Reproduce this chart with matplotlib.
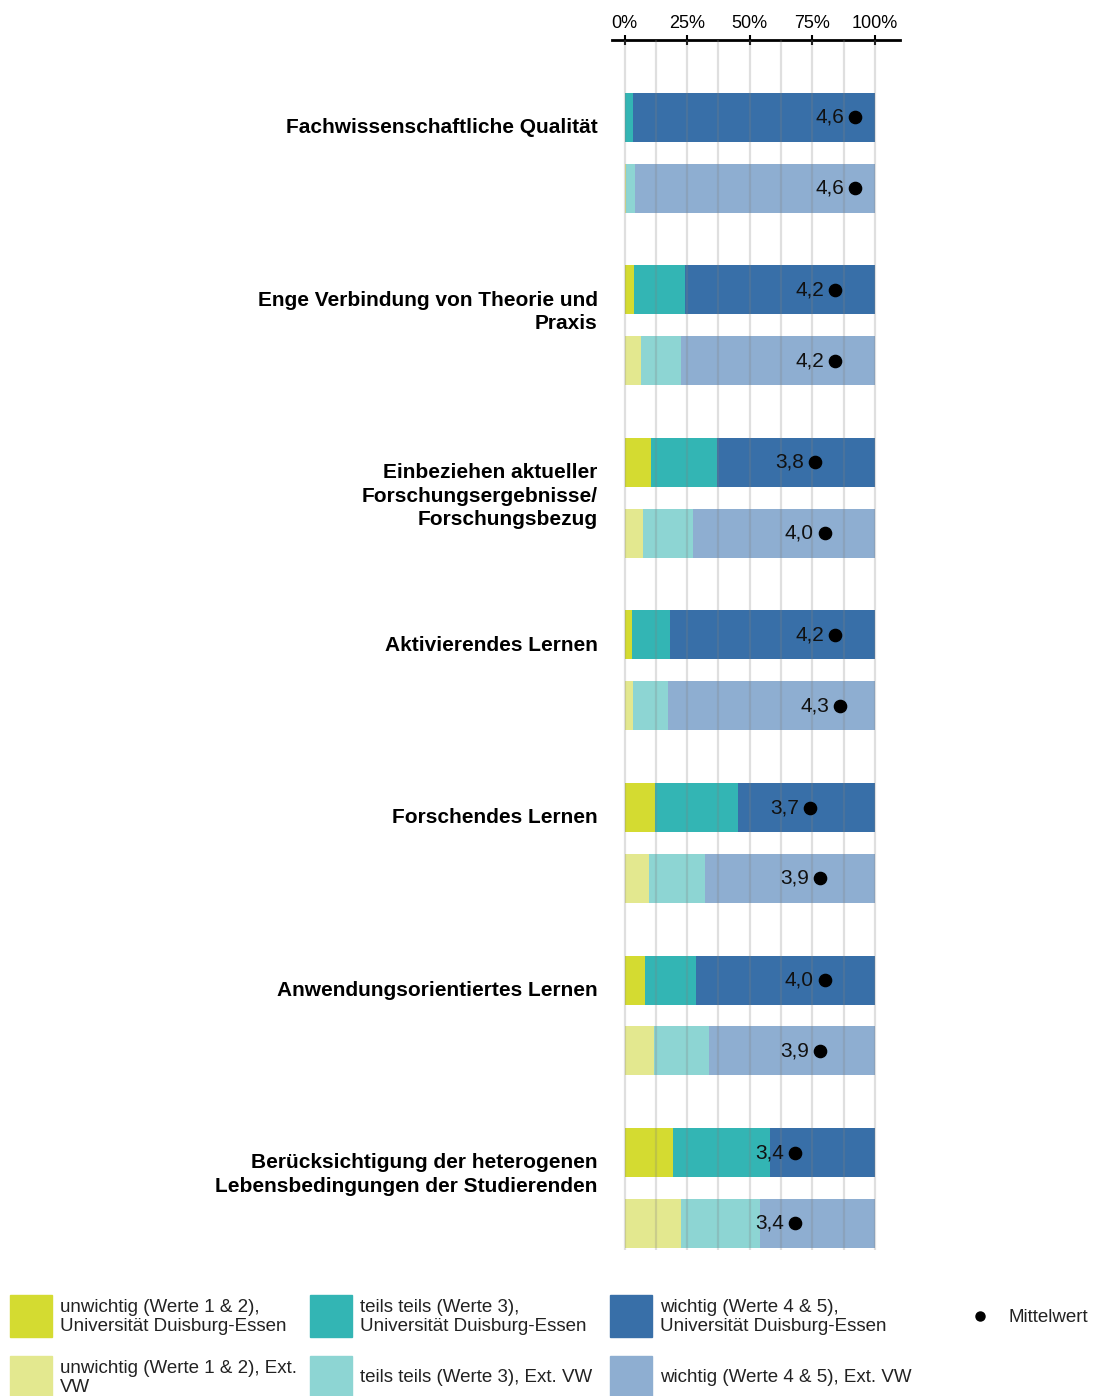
import numpy as np
import matplotlib
matplotlib.use('Agg')
import matplotlib.pyplot as plt
from matplotlib.patches import Rectangle

plt.rcParams['font.family'] = ['Liberation Sans', 'DejaVu Sans']

# Kategorien (Reihenfolge von oben nach unten)
categories = [
    'Fachwissenschaftliche Qualität',
    'Enge Verbindung von Theorie und\nPraxis',
    'Einbeziehen aktueller\nForschungsergebnisse/\nForschungsbezug',
    'Aktivierendes Lernen',
    'Forschendes Lernen',
    'Anwendungsorientiertes Lernen',
    'Berücksichtigung der heterogenen\nLebensbedingungen der Studierenden',
]

# Anteile in %, Universität Duisburg-Essen
ude_unwichtig = [0.0, 3.7, 10.7, 2.9, 12.1, 8.3, 19.3]
ude_teils = [3.5, 20.4, 26.3, 15.2, 33.3, 20.4, 38.8]
ude_wichtig = [100 - a - b for a, b in zip(ude_unwichtig, ude_teils)]
ude_mean = [4.6, 4.2, 3.8, 4.2, 3.7, 4.0, 3.4]

# Anteile in %, Ext. VW
ext_unwichtig = [0.5, 6.5, 7.3, 3.2, 9.7, 11.7, 22.7]
ext_teils = [3.7, 15.9, 20.0, 14.1, 22.4, 22.0, 31.3]
ext_wichtig = [100 - a - b for a, b in zip(ext_unwichtig, ext_teils)]
ext_mean = [4.6, 4.2, 4.0, 4.3, 3.9, 3.9, 3.4]

tick_vals = [0, 25, 50, 75, 100]
tick_labels = ['0%', '25%', '50%', '75%', '100%']

legend_labels = [
    'unwichtig (Werte 1 & 2),\nUniversität Duisburg-Essen',
    'teils teils (Werte 3),\nUniversität Duisburg-Essen',
    'wichtig (Werte 4 & 5),\nUniversität Duisburg-Essen',
    'unwichtig (Werte 1 & 2), Ext.\nVW',
    'teils teils (Werte 3), Ext. VW',
    'wichtig (Werte 4 & 5), Ext. VW',
]

ude_colors = ['#d4db31', '#33b5b4', '#386fa8']
ext_colors = ['#e3e88f', '#8dd5d3', '#8eaed1']

fig = plt.figure(figsize=(10.94, 13.96), dpi=100)
ax = fig.add_axes([612 / 1094, 1 - 1250 / 1396, 288 / 1094, 1210 / 1396])

n = len(categories)
y_ude = np.arange(n) * 1.0
y_ext = y_ude + 0.409
h = 0.284

for ys, segs, cols in [
    (y_ude, [ude_unwichtig, ude_teils, ude_wichtig], ude_colors),
    (y_ext, [ext_unwichtig, ext_teils, ext_wichtig], ext_colors),
]:
    left = np.zeros(n)
    for vals, c in zip(segs, cols):
        ax.barh(ys, vals, left=left, height=h, color=c, edgecolor='none', zorder=2)
        left += np.array(vals)

# Gitterlinien über den Balken
for g in np.arange(0, 100.1, 12.5):
    ax.axvline(g, color='#808080', alpha=0.25, lw=1.6, zorder=3)

# Mittelwerte
for ys, means in [(y_ude, ude_mean), (y_ext, ext_mean)]:
    xs = np.array(means) / 5 * 100
    ax.plot(xs, ys, 'o', color='black', ms=8.8, zorder=5)
    for x, y, m in zip(xs, ys, means):
        ax.text(x - 4.4, y, f'{m:.1f}'.replace('.', ','), ha='right', va='center',
                fontsize=15, color='#111111', zorder=6)

# Kategorienbeschriftungen
for y, cat in zip(y_ude, categories):
    ax.text(-10.7, y + 0.005, cat, ha='right', va='top', fontsize=15,
            fontweight='bold', linespacing=1.3, clip_on=False)

ax.set_xlim(-5, 110)
ax.set_ylim(6.565, -0.449)
ax.xaxis.tick_top()
ax.set_xticks(tick_vals)
ax.set_xticklabels(tick_labels, fontsize=13)
ax.tick_params(axis='x', direction='inout', length=7, width=1.5, pad=2)
ax.set_yticks([])
for s in ['left', 'right', 'bottom']:
    ax.spines[s].set_visible(False)
ax.spines['top'].set_linewidth(2)

# Legende
lg = fig.add_axes([0, 0, 1, 1])
lg.set_xlim(0, 1094)
lg.set_ylim(1396, 0)
lg.axis('off')
all_colors = ude_colors + ext_colors
for i, (lab, c) in enumerate(zip(legend_labels, all_colors)):
    col = i % 3
    row = i // 3
    x0 = 10 + col * 300
    y0 = 1295 + row * 61
    lg.add_patch(Rectangle((x0, y0), 42, 42, color=c))
    lg.text(x0 + 50, y0 + 22, lab, ha='left', va='center', fontsize=13.5,
            linespacing=1.15, color='#222222')
lg.plot([980], [1316], 'o', color='black', ms=6.5)
lg.text(1008, 1317, 'Mittelwert', ha='left', va='center', fontsize=13.5, color='#222222')

fig.savefig('out.png', dpi=100)
